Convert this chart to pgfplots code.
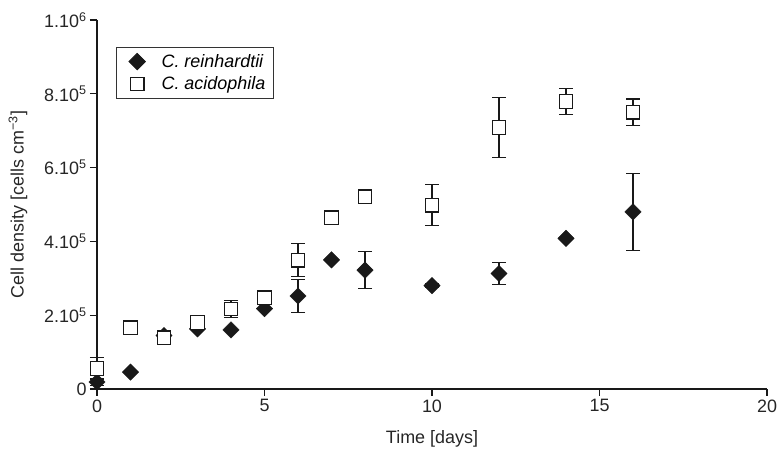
\documentclass[border=0pt]{standalone}
\usepackage{fontspec}
\setmainfont{Liberation Sans}
\usepackage{pgfplots}
\pgfplotsset{compat=1.18}
\begin{document}
\begin{tikzpicture}[x=1bp,y=1bp]
\begin{axis}[
  name=ax,
  scale only axis,
  width=670bp, height=369bp,
  xmin=0, xmax=20,
  ymin=0, ymax=1000000,
  axis lines=left,
  axis line style={-, line width=1.1pt, black!90},
  tick style={line width=1.1pt, black!90},
  tick align=outside,
  major tick length=7bp,
  xtick={0,5,10,15,20},
  ytick={0,200000,400000,600000,800000,1000000},
  yticklabels={0,{2.10\textsuperscript{5}},{4.10\textsuperscript{5}},{6.10\textsuperscript{5}},{8.10\textsuperscript{5}},{1.10\textsuperscript{6}}},
  scaled y ticks=false,
  /pgf/number format/assume math mode=true,
  tick label style={font=\fontsize{18}{21}\selectfont, text=black!85},
  label style={font=\fontsize{18}{21}\selectfont, text=black!85},
  xlabel={Time [days]},
  ylabel={Cell density [cells cm\textsuperscript{−3}]},
  xlabel shift=11bp,
  ylabel shift=10bp,
  legend style={at={(0.029,0.927)}, anchor=north west, draw=black!80,
    line width=0.8pt, font=\fontsize{18}{21}\selectfont\itshape,
    inner xsep=6pt, inner ysep=5pt, row sep=4pt, cells={anchor=west}},
  legend image code/.code={%
    \path (0bp,0bp) (36bp,0bp);
    \draw[#1] plot coordinates {(14bp,0bp)};},
  legend cell align=left,
  clip=false,
]
% C. reinhardtii
\addplot[only marks, mark=square*, mark size=5.8bp, draw=black!90, fill=black!90,
  mark options={rotate=45},
  error bars/.cd, y dir=both, y explicit,
  error bar style={line width=1.1pt, black!90},
  error mark options={rotate=90, mark size=7bp, line width=1.1pt, black!90}]
  coordinates {
  (0,19000) +- (0,10000)
  (1,46000) +- (0,0)
  (2,145000) +- (0,5000)
  (3,163000) +- (0,0)
  (4,160000) +- (0,0)
  (5,218000) +- (0,0)
  (6,252000) +- (0,45000)
  (7,350000) +- (0,0)
  (8,322000) +- (0,50000)
  (10,280000) +- (0,5000)
  (12,313000) +- (0,29000)
  (14,408000) +- (0,0)
  (16,480000) +- (0,105000)
};
\addlegendentry{C. reinhardtii}
% C. acidophila
\addplot[only marks, mark=square*, mark size=6.8bp, draw=black!90, fill=white,
  mark options={line width=1.2pt},
  error bars/.cd, y dir=both, y explicit,
  error bar style={line width=1.1pt, black!90},
  error mark options={rotate=90, mark size=7bp, line width=1.1pt, black!90}]
  coordinates {
  (0,56000) +- (0,30000)
  (1,166000) +- (0,0)
  (2,139000) +- (0,0)
  (3,180000) +- (0,0)
  (4,217000) +- (0,23000)
  (5,247000) +- (0,0)
  (6,349000) +- (0,45000)
  (7,464000) +- (0,0)
  (8,521000) +- (0,10000)
  (10,498000) +- (0,55000)
  (12,709000) +- (0,81000)
  (14,779000) +- (0,36000)
  (16,750000) +- (0,36000)
};
\addlegendentry{C. acidophila}
\end{axis}
\pgfresetboundingbox
\path ([xshift=-97bp,yshift=-67bp]ax.south west) rectangle ([xshift=13bp,yshift=20bp]ax.north east);
\end{tikzpicture}
\end{document}
